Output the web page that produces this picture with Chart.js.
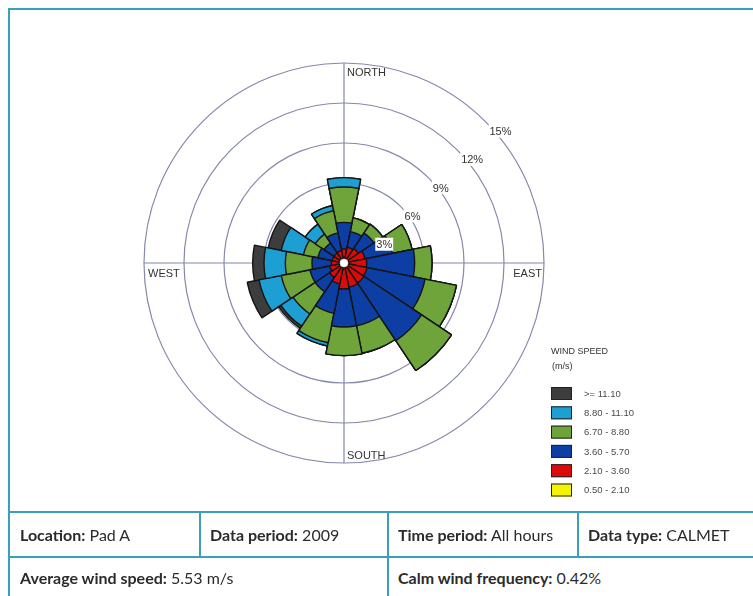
<!DOCTYPE html>
<html>
<head>
<meta charset="utf-8">
<script src="https://cdn.jsdelivr.net/npm/chart.js@4.4.0/dist/chart.umd.min.js"></script>
<style>
  html, body { margin: 0; padding: 0; background: #fff; width: 753px; height: 596px; overflow: hidden; }
  #frame { position: absolute; left: 8px; top: 8px; width: 760px; height: 600px;
           border-left: 2px solid #3c9fba; border-top: 2px solid #3c9fba; }
  #rose { position: absolute; left: 0; top: 0; }
  .hl { position: absolute; height: 2px; background: #3c9fba; left: 8px; width: 760px; }
  .vl { position: absolute; width: 2px; background: #3c9fba; }
  .cell { position: absolute; font-family: Lato, "Open Sans", sans-serif; font-size: 16px; color: #2b2b2b;
          white-space: nowrap; line-height: 18px; }
  .cell b { font-weight: 700; }
</style>
</head>
<body>
<div id="frame"></div>
<canvas id="rose" width="753" height="512"></canvas>

<div class="hl" style="top:511px"></div>
<div class="hl" style="top:556px"></div>
<div class="vl" style="left:199px; top:511px; height:46px"></div>
<div class="vl" style="left:387px; top:511px; height:90px"></div>
<div class="vl" style="left:577px; top:511px; height:46px"></div>

<div class="cell" style="left:20px; top:526px"><b>Location:</b> Pad A</div>
<div class="cell" style="left:210px; top:526px"><b>Data period:</b> 2009</div>
<div class="cell" style="left:398px; top:526px"><b>Time period:</b> All hours</div>
<div class="cell" style="left:588px; top:526px"><b>Data type:</b> CALMET</div>
<div class="cell" style="left:20px; top:569px"><b>Average wind speed:</b> 5.53 m/s</div>
<div class="cell" style="left:398px; top:569px"><b>Calm wind frequency:</b> 0.42%</div>

<script>
// Wind directions, clockwise from north
const directions = ['N', 'NNE', 'NE', 'ENE', 'E', 'ESE', 'SE', 'SSE',
                    'S', 'SSW', 'SW', 'WSW', 'W', 'WNW', 'NW', 'NNW'];

// Frequency (%) of each wind speed class per direction
const freq_050_210 = [0, 0, 0, 0, 0, 0, 0, 0, 0, 0, 0, 0, 0, 0, 0, 0];
const freq_210_360 = [1.05, 1.2, 1.3, 1.6, 1.7, 1.75, 1.8, 1.85, 1.95, 1.6, 1.3, 1.1, 0.95, 0.9, 0.9, 0.95];
const freq_360_570 = [2.0, 1.2, 1.4, 2.1, 3.6, 4.45, 5.2, 2.95, 2.85, 2.25, 1.3, 1.5, 1.45, 1.1, 0.9, 1.35];
const freq_670_880 = [2.65, 1.05, 0.8, 1.5, 1.3, 2.4, 2.7, 2.1, 2.15, 2.25, 2.0, 2.2, 2.0, 1.1, 0.8, 1.7];
const freq_880_1110 = [0.7, 0, 0, 0, 0, 0, 0, 0, 0, 0.25, 1.1, 1.7, 1.6, 1.7, 0.9, 0.4];
const freq_ge_1110 = [0, 0, 0, 0, 0, 0, 0, 0, 0, 0, 0.2, 0.9, 0.85, 1.0, 0, 0];

// Speed class labels (m/s), slowest first
const speedClasses = ['0.50 - 2.10', '2.10 - 3.60', '3.60 - 5.70', '6.70 - 8.80', '8.80 - 11.10', '>= 11.10'];

// Ring ticks (%) and compass labels
const ringTicks = [3, 6, 9, 12, 15];
const compassLabels = ['NORTH', 'EAST', 'SOUTH', 'WEST'];

const classColors = ['#f4f400', '#dc0a0a', '#0c3ea3', '#6ea43a', '#1e9fd3', '#3d3d3d'];
const gridColor = '#8488aa';
const textColor = '#333333';

// Stack the classes: each dataset holds the cumulative frequency up to its class,
// so the slower classes are painted over the faster ones.
const classSeries = [freq_050_210, freq_210_360, freq_360_570, freq_670_880, freq_880_1110, freq_ge_1110];
const running = directions.map(() => 0);
const datasets = classSeries.map((series, k) => {
  const cumulative = series.map((v, i) => (running[i] += v, +running[i].toFixed(3)));
  return {
    label: speedClasses[k],
    data: cumulative,
    backgroundColor: classColors[k],
    borderColor: '#141414',
    borderWidth: k === 0 ? 0 : 1.4
  };
});

const roseDecor = {
  id: 'roseDecor',
  beforeDatasetsDraw(chart) {
    const s = chart.scales.r, c = chart.ctx;
    const R = s.getDistanceFromCenterForValue(s.max);
    c.save();
    c.strokeStyle = gridColor;
    c.lineWidth = 1.2;
    c.beginPath();
    c.moveTo(s.xCenter, s.yCenter - R); c.lineTo(s.xCenter, s.yCenter + R);
    c.moveTo(s.xCenter - R, s.yCenter); c.lineTo(s.xCenter + R, s.yCenter);
    c.stroke();
    c.restore();
  },
  afterDatasetsDraw(chart) {
    const s = chart.scales.r, c = chart.ctx;
    const xc = s.xCenter, yc = s.yCenter;
    const R = s.getDistanceFromCenterForValue(s.max);
    c.save();

    // calm centre
    c.beginPath();
    c.arc(xc, yc, 4, 0, Math.PI * 2);
    c.fillStyle = '#ffffff';
    c.fill();
    c.strokeStyle = '#d0d0d0';
    c.lineWidth = 0.6;
    c.stroke();

    // compass labels
    c.fillStyle = textColor;
    c.font = '11px "Liberation Sans", Arial, sans-serif';
    c.textAlign = 'left'; c.textBaseline = 'top';
    c.fillText(compassLabels[0], xc + 3, yc - R + 4);
    c.textBaseline = 'bottom';
    c.fillText(compassLabels[2], xc + 3, yc + R - 2);
    c.textBaseline = 'top';
    c.fillText(compassLabels[3], xc - R + 4, yc + 5);
    c.textAlign = 'right';
    c.fillText(compassLabels[1], xc + R - 2, yc + 5);

    // ring labels along the north-east diagonal
    c.textAlign = 'left'; c.textBaseline = 'top';
    ringTicks.forEach(v => {
      const r = s.getDistanceFromCenterForValue(v);
      const x = xc + r * Math.SQRT1_2 + 4;
      const y = yc - r * Math.SQRT1_2 + 4;
      const txt = v + '%';
      const w = c.measureText(txt).width;
      c.fillStyle = '#ffffff';
      c.fillRect(x - 1, y - 1, w + 2, 13);
      c.fillStyle = textColor;
      c.fillText(txt, x, y + 1);
    });

    // legend
    const lx = 551, ly = 347;
    c.font = '9px "Liberation Sans", Arial, sans-serif';
    c.fillStyle = textColor;
    c.fillText('WIND SPEED', lx, ly);
    c.fillText('(m/s)', lx + 1, ly + 15);
    c.font = '9.5px "Liberation Sans", Arial, sans-serif';
    for (let k = speedClasses.length - 1, row = 0; k >= 0; k--, row++) {
      const y = 387 + row * 19.3;
      c.fillStyle = classColors[k];
      c.fillRect(lx, y, 21, 13);
      c.strokeStyle = '#222';
      c.lineWidth = 1;
      c.strokeRect(lx + 0.5, y + 0.5, 20, 12);
      c.fillStyle = '#4a4a4a';
      c.textBaseline = 'middle';
      c.fillText(speedClasses[k], lx + 33, y + 7);
      c.textBaseline = 'top';
    }
    c.restore();
  }
};

new Chart(document.getElementById('rose'), {
  type: 'polarArea',
  data: { labels: directions, datasets },
  options: {
    responsive: false,
    animation: false,
    events: [],
    layout: { padding: { left: 144, top: 63, right: 209, bottom: 49 } },
    plugins: { legend: { display: false }, tooltip: { enabled: false } },
    scales: {
      r: {
        min: 0, max: 15,
        startAngle: -11.25,
        ticks: { stepSize: 3, display: false },
        grid: { circular: true, color: gridColor, lineWidth: 1.2 },
        angleLines: { display: false },
        pointLabels: { display: false }
      }
    }
  },
  plugins: [roseDecor]
});
</script>
</body>
</html>
